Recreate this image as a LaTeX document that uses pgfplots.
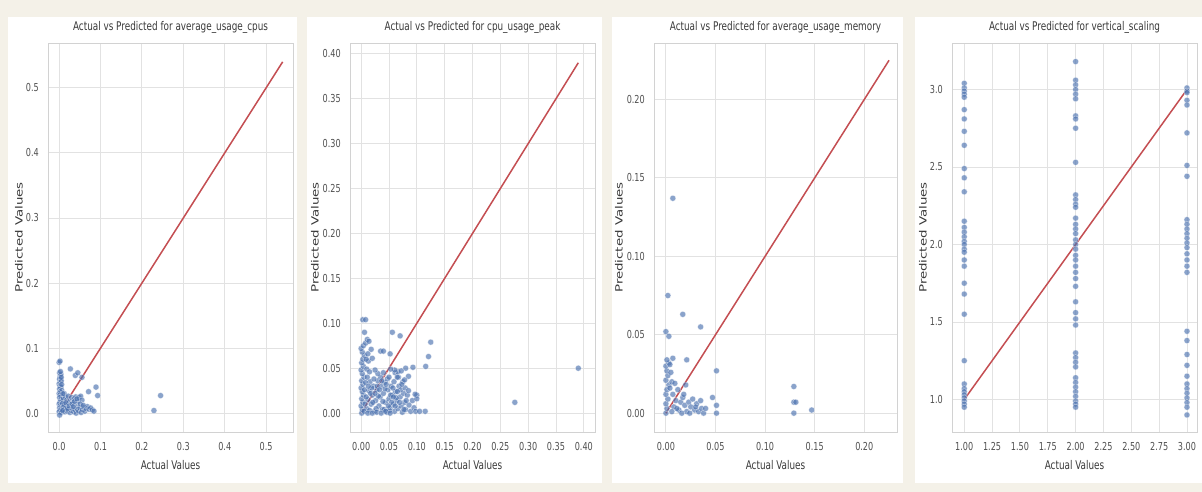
\documentclass[border=0pt]{standalone}
\usepackage{fontspec}
\setmainfont{DejaVu Sans}[FakeStretch=0.74]
\newfontfamily\vfont{DejaVu Sans}[FakeStretch=1.34]
\usepackage{pgfplots}
\pgfplotsset{compat=1.18}
\definecolor{bg}{HTML}{F4F1E8}
\definecolor{gridc}{HTML}{E2E2E2}
\definecolor{spine}{HTML}{D2D2D2}
\definecolor{sblue}{HTML}{4C72B0}
\definecolor{sred}{HTML}{C44E52}
\definecolor{txt}{HTML}{3A3A3A}
\definecolor{ticktxt}{HTML}{505050}

\pgfplotsset{
  panel/.style={
    scale only axis, width=245bp, height=389bp, anchor=south west,
    axis line style={spine, line width=0.8bp},
    grid=major, major grid style={gridc, line width=0.9bp},
    tick style={draw=none}, major tick length=0pt,
    /pgf/number format/assume math mode=true,
    ticklabel style={font=\fontsize{11}{13}\selectfont, text=ticktxt},
    xticklabel style={inner sep=0pt, anchor=north, yshift=-10bp},
    yticklabel style={inner sep=0pt, anchor=east, xshift=-9bp},
    title style={font=\fontsize{12}{14}\selectfont, text=txt, inner sep=0pt,
                 at={(0.5,1)}, anchor=south, yshift=3bp},
    every axis x label/.style={at={(axis description cs:0.5,0)}, anchor=north,
                 inner sep=0pt, yshift=-28bp, font=\fontsize{12}{14}\selectfont, text=txt},
    ylabgap/.initial=-29bp,
    every axis y label/.style={at={(axis description cs:0,0.5)},
                 xshift=\pgfkeysvalueof{/pgfplots/ylabgap}, rotate=90,
                 anchor=center, inner sep=0pt, font=\vfont\fontsize{10}{12}\selectfont, text=txt},
    xlabel={Actual Values}, ylabel={Predicted Values},
  },
  pts/.style={only marks, mark=*, mark size=3bp,
    mark options={fill=sblue, fill opacity=0.65, draw=white, draw opacity=0.7, line width=0.3bp}},
  fit/.style={sred, line width=1.5bp},
}

\begin{document}
\begin{tikzpicture}
\fill[bg] (0,0) rectangle (1202bp,492bp);
\useasboundingbox (0,0) rectangle (1202bp,492bp);
\fill[white] (8bp,9bp) rectangle (297bp,475bp);
\fill[white] (307bp,9bp) rectangle (602bp,475bp);
\fill[white] (612bp,9bp) rectangle (903bp,475bp);
\fill[white] (915bp,9bp) rectangle (1202bp,475bp);

% average_usage_cpus
\begin{axis}[panel, at={(48bp,60bp)}, ylabgap=-29bp,
  xmin=-0.027, xmax=0.565, ymin=-0.029, ymax=0.569,
  xtick={0,0.1,0.2,0.3,0.4,0.5}, xticklabels={0.0,0.1,0.2,0.3,0.4,0.5},
  ytick={0,0.1,0.2,0.3,0.4,0.5}, yticklabels={0.0,0.1,0.2,0.3,0.4,0.5},
  title={Actual vs Predicted for average\_usage\_cpus}]
\addplot[pts] coordinates {
(0.000,0.078)(0.002,0.080)(0.001,0.062)(0.003,0.058)(0.002,0.055)(0.004,0.060)(0.001,0.052)(0.003,0.048)
(0.000,0.045)(0.005,0.050)(0.002,0.042)(0.004,0.040)(0.001,0.037)(0.006,0.035)(0.003,0.033)(0.000,0.030)
(0.002,0.028)(0.005,0.026)(0.001,0.024)(0.004,0.021)(0.007,0.019)(0.002,0.017)(0.000,0.014)(0.003,0.012)
(0.006,0.010)(0.001,0.008)(0.004,0.006)(0.002,0.004)(0.000,0.002)(0.005,0.001)(0.001,-0.003)
(0.010,0.022)(0.012,0.030)(0.015,0.025)(0.018,0.020)(0.013,0.014)(0.020,0.012)(0.022,0.026)(0.025,0.018)
(0.028,0.010)(0.030,0.024)(0.033,0.016)(0.036,0.022)(0.040,0.025)(0.042,0.012)(0.045,0.018)(0.048,0.024)
(0.052,0.026)(0.055,0.020)
(0.010,0.005)(0.014,0.002)(0.017,0.008)(0.020,0.003)(0.023,0.006)(0.026,0.001)(0.029,0.004)(0.032,0.007)
(0.035,0.002)(0.038,0.005)(0.041,0.000)(0.044,0.006)(0.047,0.003)(0.050,0.008)(0.053,0.001)(0.056,0.005)
(0.059,0.009)(0.062,0.003)(0.065,0.007)(0.068,0.010)(0.072,0.006)(0.076,0.008)(0.080,0.005)(0.084,0.003)
(0.008,0.015)(0.009,0.030)(0.011,0.010)(0.016,0.016)(0.019,0.006)(0.024,0.011)(0.031,0.014)(0.034,0.010)
(0.037,0.018)(0.043,0.022)(0.051,0.014)(0.058,0.012)(0.006,0.044)(0.008,0.004)(0.003,0.064)(0.005,0.055)
(0.027,0.068)(0.039,0.058)(0.045,0.062)(0.055,0.055)(0.071,0.033)(0.089,0.040)(0.093,0.027)
(0.229,0.004)(0.245,0.027)};
\addplot[fit] coordinates {(0,0)(0.54,0.54)};
\end{axis}

% cpu_usage_peak
\begin{axis}[panel, at={(350bp,60bp)}, ylabgap=-35bp,
  xmin=-0.02, xmax=0.42, ymin=-0.021, ymax=0.412,
  xtick={0,0.05,...,0.4}, xticklabels={0.00,0.05,0.10,0.15,0.20,0.25,0.30,0.35,0.40},
  ytick={0,0.05,...,0.4}, yticklabels={0.00,0.05,0.10,0.15,0.20,0.25,0.30,0.35,0.40},
  title={Actual vs Predicted for cpu\_usage\_peak}]
\addplot[pts] coordinates {
(0.001,0.000)(0.002,0.004)(0.000,0.008)(0.003,0.012)(0.001,0.016)(0.004,0.020)(0.002,0.024)(0.000,0.028)
(0.003,0.032)(0.001,0.036)(0.005,0.040)(0.002,0.044)(0.000,0.048)(0.004,0.052)(0.001,0.056)(0.003,0.060)
(0.006,0.064)(0.002,0.068)(0.000,0.072)(0.004,0.075)(0.008,0.078)(0.011,0.082)(0.014,0.080)(0.003,0.104)
(0.008,0.104)(0.010,0.049)(0.013,0.058)(0.018,0.071)
(0.010,0.005)(0.012,0.015)(0.014,0.025)(0.016,0.035)(0.018,0.010)(0.020,0.020)(0.022,0.030)(0.024,0.002)
(0.026,0.014)(0.028,0.026)(0.030,0.036)(0.032,0.008)(0.034,0.018)(0.036,0.030)(0.038,0.004)(0.040,0.022)
(0.042,0.034)(0.044,0.012)(0.046,0.001)(0.048,0.026)(0.050,0.016)(0.052,0.006)(0.054,0.030)(0.056,0.020)
(0.058,0.010)(0.060,0.002)(0.062,0.024)(0.064,0.014)(0.066,0.005)(0.068,0.030)(0.070,0.018)(0.072,0.008)
(0.074,0.001)(0.076,0.022)(0.078,0.012)(0.080,0.004)(0.083,0.020)(0.086,0.009)(0.089,0.002)(0.092,0.014)
(0.095,0.006)(0.098,0.002)(0.100,0.020)(0.100,0.016)(0.097,0.021)
(0.015,0.003)(0.019,0.028)(0.023,0.038)(0.027,0.005)(0.031,0.019)(0.035,0.040)(0.039,0.013)(0.043,0.027)
(0.047,0.038)(0.051,0.003)(0.055,0.012)(0.059,0.035)(0.063,0.017)(0.067,0.040)(0.071,0.026)(0.075,0.035)
(0.079,0.028)(0.061,0.045)(0.066,0.046)(0.050,0.040)
(0.005,0.002)(0.007,0.010)(0.009,0.018)(0.006,0.026)(0.008,0.034)(0.011,0.040)(0.013,0.030)(0.017,0.022)
(0.021,0.012)(0.025,0.022)(0.029,0.030)(0.033,0.026)(0.037,0.036)(0.041,0.004)(0.045,0.032)(0.049,0.008)
(0.053,0.020)(0.057,0.028)(0.061,0.008)(0.065,0.024)(0.069,0.012)(0.073,0.032)(0.077,0.004)(0.081,0.014)
(0.085,0.025)(0.012,0.000)(0.020,0.000)(0.028,0.001)(0.036,0.000)(0.044,0.002)(0.052,0.000)(0.058,0.018)
(0.040,0.045)(0.030,0.044)(0.025,0.048)(0.015,0.046)(0.009,0.060)(0.006,0.090)(0.012,0.066)
(0.056,0.090)(0.070,0.086)(0.125,0.079)(0.035,0.069)(0.040,0.069)(0.052,0.066)(0.121,0.063)(0.020,0.061)
(0.116,0.052)(0.093,0.051)(0.080,0.050)(0.072,0.047)(0.060,0.048)(0.053,0.049)(0.085,0.041)(0.078,0.037)
(0.065,0.040)
(0.115,0.002)(0.105,0.002)(0.276,0.012)(0.390,0.050)};
\addplot[fit] coordinates {(0,0)(0.39,0.39)};
\end{axis}

% average_usage_memory
\begin{axis}[panel, at={(654bp,60bp)}, width=243bp, ylabgap=-35bp,
  xmin=-0.012, xmax=0.233, ymin=-0.012, ymax=0.236,
  xtick={0,0.05,...,0.2}, xticklabels={0.00,0.05,0.10,0.15,0.20},
  ytick={0,0.05,...,0.2}, yticklabels={0.00,0.05,0.10,0.15,0.20},
  title={Actual vs Predicted for average\_usage\_memory}]
\addplot[pts] coordinates {
(0.000,0.000)(0.001,0.003)(0.000,0.006)(0.002,0.009)(0.000,0.012)(0.001,0.015)(0.003,0.018)(0.000,0.021)
(0.002,0.024)(0.001,0.027)(0.000,0.030)(0.003,0.032)(0.001,0.034)(0.004,0.031)(0.005,0.026)(0.006,0.020)
(0.004,0.016)(0.007,0.012)(0.009,0.019)(0.012,0.015)(0.010,0.008)(0.008,0.004)(0.013,0.002)(0.015,0.007)
(0.017,0.010)(0.019,0.005)(0.021,0.001)(0.023,0.007)(0.025,0.004)(0.027,0.009)(0.029,0.002)(0.031,0.006)
(0.033,0.001)(0.035,0.008)(0.036,0.003)(0.038,0.000)(0.020,0.018)(0.018,0.012)(0.011,0.003)(0.006,0.001)
(0.016,0.000)(0.024,0.000)(0.030,0.004)(0.040,0.003)(0.047,0.010)(0.051,0.027)(0.051,0.005)(0.051,0.000)
(0.002,0.075)(0.017,0.063)(0.035,0.055)(0.000,0.052)(0.003,0.049)(0.007,0.035)(0.021,0.034)(0.007,0.137)
(0.129,0.017)(0.129,0.007)(0.131,0.007)(0.129,0.000)(0.147,0.002)};
\addplot[fit] coordinates {(0,0)(0.225,0.225)};
\end{axis}

% vertical_scaling
\begin{axis}[panel, at={(952bp,60bp)}, ylabgap=-29bp,
  xmin=0.89, xmax=3.09, ymin=0.79, ymax=3.30,
  xtick={1,1.25,...,3}, xticklabels={1.00,1.25,1.50,1.75,2.00,2.25,2.50,2.75,3.00},
  ytick={1,1.5,...,3}, yticklabels={1.0,1.5,2.0,2.5,3.0},
  title={Actual vs Predicted for vertical\_scaling}]
\addplot[pts] coordinates {
(1,3.04)(1,3.01)(1,2.99)(1,2.97)(1,2.95)(1,2.87)(1,2.81)(1,2.73)(1,2.64)(1,2.49)(1,2.43)(1,2.34)
(1,2.15)(1,2.11)(1,2.08)(1,2.05)(1,2.02)(1,2.00)(1,1.97)(1,1.95)(1,1.90)(1,1.86)(1,1.75)(1,1.68)(1,1.55)
(1,1.25)(1,1.10)(1,1.07)(1,1.05)(1,1.03)(1,1.01)(1,0.99)(1,0.97)(1,0.95)
(2,3.18)(2,3.06)(2,3.03)(2,3.00)(2,2.97)(2,2.94)(2,2.83)(2,2.81)(2,2.75)(2,2.53)(2,2.32)(2,2.29)(2,2.26)
(2,2.24)(2,2.17)(2,2.13)(2,2.10)(2,2.07)(2,2.03)(2,2.00)(2,1.97)(2,1.93)(2,1.90)(2,1.86)(2,1.82)(2,1.78)
(2,1.73)(2,1.63)(2,1.56)(2,1.52)(2,1.48)(2,1.30)(2,1.27)(2,1.24)(2,1.21)(2,1.14)(2,1.11)(2,1.08)(2,1.05)
(2,1.02)(2,0.99)(2,0.97)(2,0.95)
(3,3.01)(3,2.99)(3,2.98)(3,2.93)(3,2.90)(3,2.72)(3,2.51)(3,2.44)(3,2.16)(3,2.13)(3,2.10)(3,2.07)(3,2.04)
(3,2.01)(3,1.98)(3,1.94)(3,1.90)(3,1.86)(3,1.82)(3,1.44)(3,1.38)(3,1.29)(3,1.22)(3,1.15)(3,1.10)(3,1.07)
(3,1.04)(3,1.01)(3,0.98)(3,0.95)(3,0.90)};
\addplot[fit] coordinates {(1,1)(3,3)};
\end{axis}
\end{tikzpicture}
\end{document}
